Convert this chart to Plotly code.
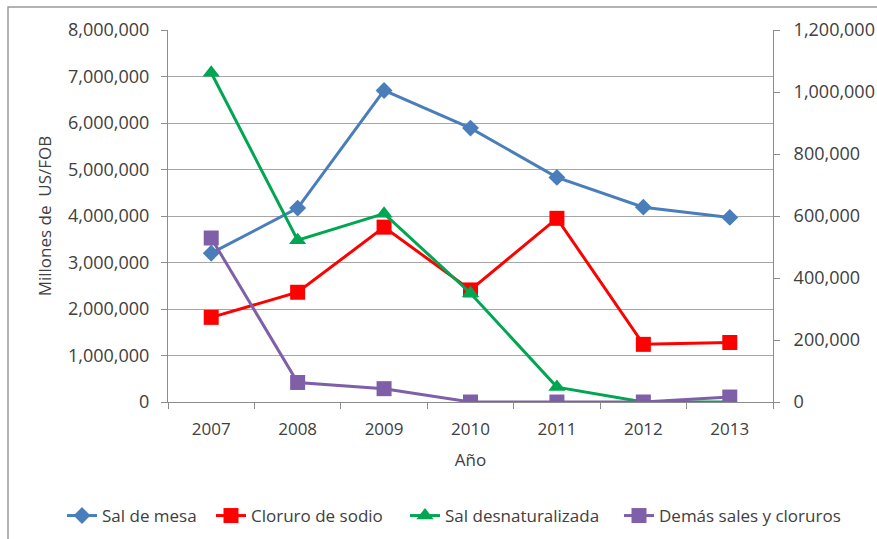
import plotly.graph_objects as go

# Export values by year (US$ FOB)
years = ["2007", "2008", "2009", "2010", "2011", "2012", "2013"]
sal_de_mesa = [3200000, 4170000, 6700000, 5890000, 4830000, 4190000, 3970000]
cloruro_de_sodio = [1820000, 2360000, 3760000, 2410000, 3950000, 1240000, 1280000]
sal_desnaturalizada = [7080000, 3480000, 4050000, 2340000, 320000, 0, 0]
demas_sales = [529000, 63000, 43000, 0, 0, 0, 16000]  # secondary axis

left_ticks = list(range(0, 8000001, 1000000))
right_ticks = list(range(0, 1200001, 200000))

W, H = 877, 539
L, R, T, B = 168, 104, 30, 137
plot_w = W - L - R
plot_h = H - T - B

font = "Open Sans, Noto Sans, sans-serif"
axis_grey = "#8C8C8C"

series = [
    dict(name="Sal de mesa", y=sal_de_mesa, color="#4A7EBB",
         symbol="diamond", size=13, axis="y", legend="legend", lx=62),
    dict(name="Cloruro de sodio", y=cloruro_de_sodio, color="#FF0000",
         symbol="square", size=15, axis="y", legend="legend2", lx=211),
    dict(name="Sal desnaturalizada", y=sal_desnaturalizada, color="#00A651",
         symbol="triangle-up", size=15, axis="y", legend="legend3", lx=405),
    dict(name="Demás sales y cloruros", y=demas_sales, color="#7F5FA8",
         symbol="square", size=15, axis="y2", legend="legend4", lx=619),
]

fig = go.Figure()
for s in series:
    fig.add_trace(go.Scatter(
        x=years, y=s["y"], name=s["name"], mode="lines+markers",
        yaxis=s["axis"], legend=s["legend"],
        line=dict(color=s["color"], width=3),
        marker=dict(symbol=s["symbol"], size=s["size"], color=s["color"]),
    ))

def px_to_paper_x(px):
    return (px - L) / plot_w

def px_to_paper_y(py):
    return (H - B - py) / plot_h

# One single-entry legend per series, laid out in a row below the chart
legends = {}
for s in series:
    legends[s["legend"]] = dict(
        orientation="h", xref="container", yref="container",
        x=s["lx"] / W, xanchor="left",
        y=1 - 516 / H, yanchor="middle",
        font=dict(size=17), bgcolor="rgba(0,0,0,0)",
    )

fig.update_layout(
    width=W, height=H,
    margin=dict(l=L, r=R, t=T, b=B, autoexpand=False),
    paper_bgcolor="white", plot_bgcolor="white",
    font=dict(family=font, size=17, color="#404040"),
    xaxis=dict(
        type="category", range=[-0.5, 6.5],
        showline=True, linecolor=axis_grey, linewidth=1,
        ticks="outside", tickson="boundaries", ticklen=6, tickcolor=axis_grey,
        showgrid=False, tickfont=dict(size=17), ticklabelstandoff=12,
        title=dict(text="Año", font=dict(size=17), standoff=14),
    ),
    yaxis=dict(
        range=[0, 8000000], tickvals=left_ticks, tickformat=",d",
        showline=True, linecolor=axis_grey, linewidth=1,
        ticks="outside", ticklen=6, tickcolor=axis_grey,
        showgrid=True, gridcolor="#A6A6A6", gridwidth=1,
        zeroline=False, tickfont=dict(size=18), ticklabelstandoff=8,
        title=dict(text="Millones de  US/FOB", font=dict(size=17), standoff=12),
    ),
    yaxis2=dict(
        range=[0, 1200000], tickvals=right_ticks, tickformat=",d",
        overlaying="y", side="right",
        showline=True, linecolor=axis_grey, linewidth=1,
        ticks="outside", ticklen=6, tickcolor=axis_grey,
        showgrid=False, zeroline=False, tickfont=dict(size=18),
        ticklabelstandoff=10,
    ),
    showlegend=True,
    **legends,
)

# Chart frame
fig.add_shape(
    type="rect", xref="paper", yref="paper",
    x0=px_to_paper_x(8), x1=px_to_paper_x(W + 5),
    y0=px_to_paper_y(H + 5), y1=px_to_paper_y(7),
    line=dict(color="#9A9A9A", width=1.5), fillcolor="rgba(0,0,0,0)",
    layer="below",
)

fig.write_html("out.html")
